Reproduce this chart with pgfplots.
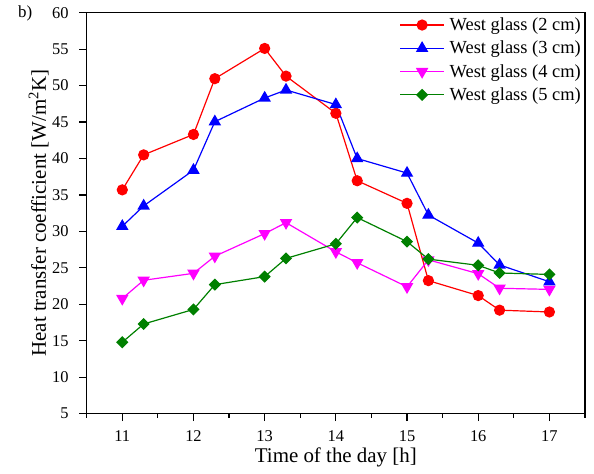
\documentclass[border=0pt]{standalone}
\usepackage{fontspec}
\setmainfont{Liberation Serif}
\usepackage{pgfplots}
\pgfplotsset{compat=1.18}
\definecolor{dgreen}{RGB}{0,128,0}
\definecolor{mred}{RGB}{255,0,0}
\definecolor{mblue}{RGB}{0,0,255}
\definecolor{mmag}{RGB}{255,0,255}
\begin{document}
\begin{tikzpicture}
\begin{axis}[
  scale only axis,
  width=498.3bp, height=401bp,
  xmin=10.5, xmax=17.5, ymin=5, ymax=60,
  xtick={11,12,13,14,15,16,17},
  minor xtick={10.5,11.5,12.5,13.5,14.5,15.5,16.5,17.5},
  ytick={5,10,15,20,25,30,35,40,45,50,55,60},
  tick align=outside, tick pos=left,
  major tick length=7.5bp, minor tick length=4bp,
  axis line style={line width=1.4bp},
  every tick/.style={black, line width=1.2bp},
  /pgf/number format/assume math mode=true,
  ticklabel style={font=\fontsize{16.5}{18}\selectfont},
  xticklabel style={yshift=-6bp},
  yticklabel style={xshift=-7bp},
  xlabel={Time of the day [h]},
  ylabel={Heat transfer coefficient [W/m\textsuperscript{2}K]},
  label style={font=\fontsize{21}{22}\selectfont},
  xlabel style={at={(axis description cs:0.5,-0.1229)}, anchor=base},
  ylabel style={at={(axis description cs:-0.0817,0.5)}, anchor=base},
  legend style={draw=none, fill=none, at={(1,1)}, anchor=north east,
    xshift=-4bp, yshift=-5bp,
    font=\fontsize{18.5}{20}\selectfont, row sep=9bp, column sep=5bp,
    inner sep=0pt, nodes={inner sep=0pt}},
  legend cell align=left,
  legend image code/.code={%
    \draw[mark repeat=2, mark phase=2] plot coordinates {(0bp,0bp) (22bp,0bp) (44bp,0bp)};},
  every axis plot/.append style={line width=1.2bp},
]
\addplot[mred, mark=*, mark size=5bp, mark options={solid}] coordinates {
(11,35.7) (11.3,40.5) (12,43.3) (12.3,50.95) (13,55.1) (13.3,51.3) (14,46.2)
(14.3,36.95) (15,33.85) (15.3,23.25) (16,21.2) (16.3,19.2) (17,18.95)};
\addlegendentry{West glass (2 cm)}
\addplot[mblue, mark=triangle*, mark size=6bp] coordinates {
(11,30.7) (11.3,33.5) (12,38.4) (12.3,45.05) (13,48.3) (13.3,49.4) (14,47.4)
(14.3,40.0) (15,38.0) (15.3,32.25) (16,28.4) (16.3,25.4) (17,23.1)};
\addlegendentry{West glass (3 cm)}
\addplot[mmag, mark=triangle*, mark size=6bp, mark options={rotate=180}] coordinates {
(11,20.8) (11.3,23.3) (12,24.25) (12.3,26.6) (13,29.7) (13.3,31.2) (14,27.2)
(14.3,25.7) (15,22.4) (15.3,26.1) (16,24.2) (16.3,22.2) (17,22.05)};
\addlegendentry{West glass (4 cm)}
\addplot[dgreen, mark=square*, mark size=3.7bp, mark options={rotate=45}] coordinates {
(11,14.8) (11.3,17.3) (12,19.3) (12.3,22.7) (13,23.8) (13.3,26.3) (14,28.3)
(14.3,31.9) (15,28.6) (15.3,26.2) (16,25.35) (16.3,24.3) (17,24.1)};
\addlegendentry{West glass (5 cm)}
\end{axis}
\path (current axis.south west) +(-86.7bp,-60.3bp) coordinate (bl);
\path (current axis.north east) +(9bp,12.7bp) coordinate (tr);
\pgfresetboundingbox
\path[use as bounding box] (bl) rectangle (tr);
\node[anchor=base west, inner sep=0pt, font=\fontsize{17}{18}\selectfont] at ([xshift=18bp,yshift=-18bp]bl|-tr) {b)};
\end{tikzpicture}
\end{document}
